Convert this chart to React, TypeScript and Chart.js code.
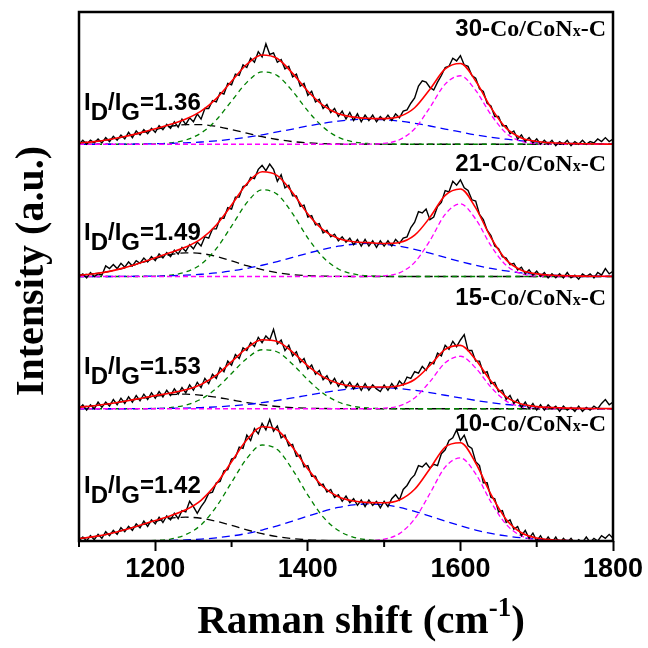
import React, { useEffect, useRef } from "react";
import { Chart, registerables } from "chart.js";

Chart.register(...registerables);

// Raman shift window and sampling grids (cm^-1)
const SHIFT_MIN = 1100;
const SHIFT_MAX = 1800;
const SPECTRUM_STEP = 5;
const FIT_STEP = 20;
const MAJOR_TICKS = [1200, 1400, 1600, 1800];
const MINOR_TICKS = [1100, 1300, 1500, 1700];

// Samples from bottom to top of the stack
const SAMPLE_NAMES = ["10", "15", "21", "30"];
const ID_IG_RATIOS = ["1.42", "1.53", "1.49", "1.36"];

// Measured spectra (normalised intensity, 5 cm^-1 steps from 1100)
const SPECTRUM_10 = [
  0.0, 0.03, 0.0, 0.04, 0.01, 0.05, 0.02, 0.07, 0.04, 0.08,
  0.05, 0.1, 0.07, 0.11, 0.08, 0.13, 0.1, 0.15, 0.11, 0.16,
  0.13, 0.18, 0.14, 0.19, 0.16, 0.21, 0.17, 0.23, 0.22, 0.3,
  0.26, 0.21, 0.26, 0.3, 0.36, 0.37, 0.44, 0.45, 0.53, 0.54,
  0.62, 0.63, 0.71, 0.7, 0.8, 0.76, 0.85, 0.81, 0.89, 0.84,
  0.92, 0.83, 0.87, 0.78, 0.8, 0.72, 0.73, 0.64, 0.65, 0.56,
  0.57, 0.49, 0.49, 0.42, 0.43, 0.37, 0.39, 0.33, 0.35, 0.3,
  0.34, 0.29, 0.32, 0.27, 0.31, 0.26, 0.31, 0.27, 0.3, 0.25,
  0.3, 0.26, 0.32, 0.35, 0.31, 0.39, 0.42, 0.47, 0.5, 0.57,
  0.56, 0.59, 0.55, 0.58, 0.57, 0.66, 0.69, 0.76, 0.78, 0.84,
  0.76, 0.8, 0.72, 0.7, 0.6, 0.57, 0.44, 0.44, 0.33, 0.32,
  0.22, 0.23, 0.14, 0.16, 0.09, 0.11, 0.04, 0.08, 0.02, 0.06,
  0.0, 0.04, -0.01, 0.03, -0.01, 0.03, -0.02, 0.02, -0.01, 0.02,
  -0.02, 0.01, -0.01, 0.03, -0.01, 0.02, 0.0, 0.04, 0.02, 0.05,
  0.02,
];
const SPECTRUM_15 = [
  0.0, 0.03, -0.01, 0.03, 0.0, 0.05, 0.01, 0.05, 0.02, 0.07,
  0.03, 0.08, 0.04, 0.09, 0.05, 0.1, 0.06, 0.11, 0.07, 0.12,
  0.08, 0.13, 0.09, 0.14, 0.1, 0.15, 0.11, 0.16, 0.12, 0.18,
  0.14, 0.2, 0.16, 0.23, 0.19, 0.26, 0.23, 0.31, 0.28, 0.36,
  0.33, 0.41, 0.38, 0.46, 0.44, 0.5, 0.47, 0.54, 0.5, 0.55,
  0.52, 0.6, 0.49, 0.52, 0.44, 0.48, 0.4, 0.43, 0.35, 0.38,
  0.3, 0.33, 0.26, 0.29, 0.22, 0.25, 0.19, 0.23, 0.17, 0.21,
  0.16, 0.2, 0.15, 0.19, 0.14, 0.19, 0.14, 0.18, 0.15, 0.13,
  0.18, 0.14, 0.19, 0.15, 0.21, 0.18, 0.24, 0.23, 0.28, 0.27,
  0.32, 0.29, 0.35, 0.34, 0.42, 0.4, 0.48, 0.45, 0.51, 0.47,
  0.52, 0.56, 0.44, 0.44, 0.36, 0.36, 0.27, 0.28, 0.19, 0.2,
  0.13, 0.14, 0.07, 0.1, 0.04, 0.07, 0.01, 0.05, 0.0, 0.04,
  -0.01, 0.03, -0.01, 0.03, 0.0, 0.02, -0.02, 0.02, -0.01, 0.01,
  -0.02, 0.02, -0.02, 0.01, -0.01, 0.02, 0.0, 0.04, 0.07, 0.03,
  0.05,
];
const SPECTRUM_21 = [
  0.0, 0.02, -0.01, 0.03, 0.0, 0.02, 0.01, 0.08, 0.06, 0.09,
  0.06, 0.1, 0.07, 0.11, 0.08, 0.12, 0.1, 0.14, 0.11, 0.15,
  0.12, 0.17, 0.14, 0.18, 0.15, 0.2, 0.17, 0.22, 0.19, 0.24,
  0.21, 0.26, 0.23, 0.3, 0.29, 0.36, 0.36, 0.44, 0.44, 0.52,
  0.51, 0.6, 0.6, 0.68, 0.69, 0.75, 0.74, 0.81, 0.84, 0.8,
  0.85, 0.81, 0.72, 0.77, 0.67, 0.69, 0.61, 0.61, 0.53, 0.54,
  0.45, 0.46, 0.39, 0.4, 0.33, 0.35, 0.3, 0.32, 0.27, 0.3,
  0.26, 0.29, 0.24, 0.28, 0.23, 0.28, 0.23, 0.27, 0.22, 0.27,
  0.23, 0.27, 0.23, 0.28, 0.25, 0.29, 0.3, 0.37, 0.41, 0.49,
  0.48, 0.51, 0.43, 0.45, 0.53, 0.56, 0.65, 0.64, 0.72, 0.69,
  0.73, 0.67, 0.65, 0.58, 0.57, 0.47, 0.43, 0.35, 0.31, 0.23,
  0.21, 0.15, 0.14, 0.09, 0.1, 0.05, 0.07, 0.02, 0.05, 0.01,
  0.04, 0.0, 0.03, -0.01, 0.02, -0.01, 0.02, -0.01, 0.03, -0.01,
  0.01, -0.02, 0.02, 0.0, 0.02, -0.01, 0.03, 0.01, 0.06, 0.02,
  0.04,
];
const SPECTRUM_30 = [
  0.0, 0.03, 0.0, 0.03, 0.01, 0.04, 0.01, 0.05, 0.02, 0.06,
  0.03, 0.07, 0.04, 0.09, 0.05, 0.1, 0.07, 0.11, 0.08, 0.12,
  0.09, 0.14, 0.11, 0.15, 0.12, 0.17, 0.13, 0.19, 0.15, 0.2,
  0.17, 0.23, 0.19, 0.27, 0.27, 0.33, 0.32, 0.39, 0.38, 0.46,
  0.45, 0.53, 0.52, 0.6, 0.58, 0.65, 0.62, 0.7, 0.66, 0.76,
  0.68, 0.69, 0.62, 0.64, 0.57, 0.59, 0.51, 0.53, 0.44, 0.46,
  0.37, 0.4, 0.32, 0.34, 0.27, 0.3, 0.24, 0.27, 0.21, 0.25,
  0.19, 0.24, 0.18, 0.23, 0.17, 0.22, 0.18, 0.22, 0.17, 0.21,
  0.18, 0.22, 0.18, 0.23, 0.2, 0.25, 0.26, 0.31, 0.35, 0.44,
  0.48, 0.47, 0.43, 0.41, 0.47, 0.52, 0.58, 0.59, 0.65, 0.63,
  0.67, 0.6, 0.59, 0.52, 0.5, 0.42, 0.4, 0.31, 0.29, 0.21,
  0.21, 0.14, 0.14, 0.08, 0.1, 0.04, 0.07, 0.02, 0.05, 0.01,
  0.04, 0.0, 0.03, 0.0, 0.03, -0.01, 0.02, 0.0, 0.03, -0.01,
  0.02, 0.0, 0.03, 0.0, 0.02, 0.01, 0.04, 0.02, 0.05, 0.02,
  0.04,
];

// Fitted components (20 cm^-1 steps from 1100): ~1250 band, D band, broad band, G band
const BAND1250_10 = [0.018, 0.033, 0.055, 0.084, 0.118, 0.149, 0.172, 0.18, 0.172, 0.149, 0.118, 0.084, 0.055, 0.033, 0.018, 0.009, 0.004, 0.002, 0.001, 0, 0, 0, 0, 0, 0, 0, 0, 0, 0, 0, 0, 0, 0, 0, 0, 0];
const BAND_D_10 = [0, 0, 0, 0, 0, 0.004, 0.015, 0.048, 0.122, 0.259, 0.443, 0.624, 0.726, 0.691, 0.539, 0.347, 0.182, 0.079, 0.028, 0.008, 0.002, 0, 0, 0, 0, 0, 0, 0, 0, 0, 0, 0, 0, 0, 0, 0];
const BAND_BROAD_10 = [0, 0, 0, 0.001, 0.001, 0.002, 0.004, 0.008, 0.014, 0.024, 0.038, 0.057, 0.083, 0.115, 0.151, 0.188, 0.224, 0.254, 0.273, 0.28, 0.273, 0.254, 0.224, 0.188, 0.151, 0.115, 0.083, 0.057, 0.038, 0.024, 0.014, 0.008, 0.004, 0.002, 0.001, 0.001];
const BAND_G_10 = [0, 0, 0, 0, 0, 0, 0, 0, 0, 0, 0, 0, 0, 0, 0, 0, 0, 0, 0, 0.002, 0.014, 0.056, 0.167, 0.359, 0.559, 0.628, 0.507, 0.295, 0.125, 0.038, 0.008, 0.001, 0, 0, 0, 0];

const BAND1250_15 = [0.013, 0.023, 0.038, 0.057, 0.077, 0.095, 0.107, 0.11, 0.102, 0.087, 0.067, 0.047, 0.03, 0.017, 0.009, 0.004, 0.002, 0.001, 0, 0, 0, 0, 0, 0, 0, 0, 0, 0, 0, 0, 0, 0, 0, 0, 0, 0];
const BAND_D_15 = [0, 0, 0, 0, 0, 0.002, 0.009, 0.028, 0.073, 0.153, 0.267, 0.38, 0.446, 0.429, 0.337, 0.219, 0.117, 0.051, 0.018, 0.005, 0.001, 0, 0, 0, 0, 0, 0, 0, 0, 0, 0, 0, 0, 0, 0, 0];
const BAND_BROAD_15 = [0, 0, 0, 0, 0.001, 0.002, 0.003, 0.005, 0.009, 0.014, 0.022, 0.032, 0.046, 0.063, 0.082, 0.102, 0.122, 0.139, 0.152, 0.159, 0.159, 0.152, 0.139, 0.122, 0.102, 0.082, 0.063, 0.046, 0.032, 0.022, 0.014, 0.009, 0.005, 0.003, 0.002, 0.001];
const BAND_G_15 = [0, 0, 0, 0, 0, 0, 0, 0, 0, 0, 0, 0, 0, 0, 0, 0, 0, 0, 0, 0, 0.004, 0.022, 0.082, 0.205, 0.347, 0.397, 0.308, 0.163, 0.058, 0.014, 0.002, 0, 0, 0, 0, 0];

const BAND1250_21 = [0.01, 0.021, 0.039, 0.066, 0.1, 0.136, 0.165, 0.179, 0.174, 0.152, 0.118, 0.082, 0.052, 0.029, 0.014, 0.006, 0.003, 0.001, 0, 0, 0, 0, 0, 0, 0, 0, 0, 0, 0, 0, 0, 0, 0, 0, 0, 0];
const BAND_D_21 = [0, 0, 0, 0, 0, 0.002, 0.01, 0.034, 0.093, 0.211, 0.381, 0.558, 0.655, 0.621, 0.475, 0.291, 0.145, 0.057, 0.019, 0.005, 0.001, 0, 0, 0, 0, 0, 0, 0, 0, 0, 0, 0, 0, 0, 0, 0];
const BAND_BROAD_21 = [0, 0, 0, 0.001, 0.002, 0.003, 0.006, 0.01, 0.017, 0.027, 0.042, 0.061, 0.085, 0.113, 0.144, 0.176, 0.205, 0.229, 0.244, 0.25, 0.244, 0.229, 0.205, 0.176, 0.144, 0.113, 0.085, 0.061, 0.042, 0.027, 0.017, 0.01, 0.006, 0.003, 0.002, 0.001];
const BAND_G_21 = [0, 0, 0, 0, 0, 0, 0, 0, 0, 0, 0, 0, 0, 0, 0, 0, 0, 0, 0, 0.001, 0.005, 0.028, 0.107, 0.271, 0.47, 0.549, 0.434, 0.233, 0.084, 0.021, 0.003, 0, 0, 0, 0, 0];

const BAND1250_30 = [0.011, 0.02, 0.036, 0.057, 0.084, 0.111, 0.135, 0.148, 0.148, 0.135, 0.111, 0.084, 0.057, 0.036, 0.02, 0.011, 0.005, 0.002, 0.001, 0, 0, 0, 0, 0, 0, 0, 0, 0, 0, 0, 0, 0, 0, 0, 0, 0];
const BAND_D_30 = [0, 0, 0, 0, 0, 0.002, 0.01, 0.032, 0.085, 0.184, 0.327, 0.468, 0.547, 0.519, 0.401, 0.252, 0.13, 0.053, 0.018, 0.005, 0.001, 0, 0, 0, 0, 0, 0, 0, 0, 0, 0, 0, 0, 0, 0, 0];
const BAND_BROAD_30 = [0, 0, 0, 0.001, 0.002, 0.004, 0.006, 0.011, 0.017, 0.026, 0.038, 0.053, 0.071, 0.093, 0.115, 0.138, 0.159, 0.175, 0.186, 0.19, 0.186, 0.175, 0.159, 0.138, 0.115, 0.093, 0.071, 0.053, 0.038, 0.026, 0.017, 0.011, 0.006, 0.004, 0.002, 0.001];
const BAND_G_30 = [0, 0, 0, 0, 0, 0, 0, 0, 0, 0, 0, 0, 0, 0, 0, 0, 0, 0, 0, 0.001, 0.007, 0.034, 0.117, 0.278, 0.455, 0.518, 0.407, 0.224, 0.084, 0.022, 0.004, 0, 0, 0, 0, 0];

const PANELS = [
  { spectrum: SPECTRUM_10, bands: [BAND1250_10, BAND_D_10, BAND_BROAD_10, BAND_G_10] },
  { spectrum: SPECTRUM_15, bands: [BAND1250_15, BAND_D_15, BAND_BROAD_15, BAND_G_15] },
  { spectrum: SPECTRUM_21, bands: [BAND1250_21, BAND_D_21, BAND_BROAD_21, BAND_G_21] },
  { spectrum: SPECTRUM_30, bands: [BAND1250_30, BAND_D_30, BAND_BROAD_30, BAND_G_30] },
];

// Styling for the four fitted bands
const BAND_STYLES = [
  { color: "#000000", dash: [8, 5], order: 5 },
  { color: "#008000", dash: [5, 4], order: 4 },
  { color: "#0000ff", dash: [8, 5], order: 3 },
  { color: "#ff00ff", dash: [5, 3], order: 2 },
];

// Vertical placement of the annotations inside each stacked panel (panel units)
const NAME_LEVEL = [0.832, 0.785, 0.798, 0.818];
const RATIO_LEVEL = [0.363, 0.263, 0.276, 0.26];

const SANS_B = (s: number) => `bold ${s}px "Liberation Sans", Arial, sans-serif`;
const SERIF_B = (s: number) => `bold ${s}px "Liberation Serif", "Times New Roman", serif`;

type Run = { text: string; font: string; dy?: number };

function drawRuns(ctx: CanvasRenderingContext2D, runs: Run[], x: number, y: number, align: "left" | "right" | "center") {
  const widths = runs.map((r) => {
    ctx.font = r.font;
    return ctx.measureText(r.text).width;
  });
  const total = widths.reduce((a, b) => a + b, 0);
  let cx = align === "right" ? x - total : align === "center" ? x - total / 2 : x;
  ctx.textAlign = "left";
  ctx.textBaseline = "alphabetic";
  runs.forEach((r, i) => {
    ctx.font = r.font;
    ctx.fillText(r.text, cx, y + (r.dy || 0));
    cx += widths[i];
  });
}

const decorPlugin = {
  id: "ramanDecor",
  afterDraw(chart: any) {
    const ctx: CanvasRenderingContext2D = chart.ctx;
    const { left, right, top, bottom } = chart.chartArea;
    const xs = chart.scales.x;
    const ys = chart.scales.y;
    ctx.save();
    ctx.strokeStyle = "#000";
    ctx.fillStyle = "#000";

    // frame
    ctx.lineWidth = 2.5;
    ctx.strokeRect(left, top, right - left, bottom - top);

    // minor ticks
    ctx.lineWidth = 2;
    MINOR_TICKS.forEach((v) => {
      const px = xs.getPixelForValue(v);
      ctx.beginPath();
      ctx.moveTo(px, bottom);
      ctx.lineTo(px, bottom + 6);
      ctx.stroke();
    });

    // panel annotations
    SAMPLE_NAMES.forEach((name, p) => {
      const yName = ys.getPixelForValue(p + NAME_LEVEL[p]);
      drawRuns(
        ctx,
        [
          { text: `${name}-`, font: SANS_B(24) },
          { text: "Co/CoN", font: SERIF_B(24) },
          { text: "x", font: SERIF_B(16) },
          { text: "-C", font: SERIF_B(24) },
        ],
        606,
        yName,
        "right"
      );
      const yRatio = ys.getPixelForValue(p + RATIO_LEVEL[p]);
      drawRuns(
        ctx,
        [
          { text: "I", font: SANS_B(24) },
          { text: "D", font: SANS_B(24), dy: 10 },
          { text: "/", font: SANS_B(24) },
          { text: "I", font: SANS_B(24) },
          { text: "G", font: SANS_B(24), dy: 10 },
          { text: `=${ID_IG_RATIOS[p]}`, font: SANS_B(24) },
        ],
        84,
        yRatio,
        "left"
      );
    });

    // axis titles
    drawRuns(
      ctx,
      [
        { text: "Raman shift (cm", font: SERIF_B(41) },
        { text: "-1", font: SERIF_B(27), dy: -17 },
        { text: ")", font: SERIF_B(41) },
      ],
      361,
      633,
      "center"
    );
    ctx.translate(43, 271);
    ctx.rotate(-Math.PI / 2);
    ctx.font = SERIF_B(40);
    ctx.textAlign = "center";
    ctx.textBaseline = "alphabetic";
    ctx.fillText("Intensity (a.u.)", 0, 0);
    ctx.restore();
  },
};

function buildDatasets() {
  const sets: any[] = [];
  PANELS.forEach((panel, p) => {
    const fitX = panel.bands[0].map((_, i) => SHIFT_MIN + i * FIT_STEP);
    // cumulative fit = sum of the fitted bands
    const fit = fitX.map((x, i) => ({
      x,
      y: p + panel.bands.reduce((s, b) => s + b[i], 0),
    }));
    sets.push({
      data: fit,
      borderColor: "#ff0000",
      borderWidth: 1.6,
      cubicInterpolationMode: "monotone",
      pointRadius: 0,
      order: 0,
    });
    sets.push({
      data: panel.spectrum.map((v, i) => ({ x: SHIFT_MIN + i * SPECTRUM_STEP, y: p + v })),
      borderColor: "#000000",
      borderWidth: 1.4,
      tension: 0,
      pointRadius: 0,
      order: 1,
    });
    panel.bands.forEach((band, k) => {
      const st = BAND_STYLES[k];
      sets.push({
        data: band.map((v, i) => ({ x: fitX[i], y: p + v })),
        borderColor: st.color,
        borderWidth: 1.3,
        borderDash: st.dash,
        cubicInterpolationMode: "monotone",
        pointRadius: 0,
        order: st.order,
      });
    });
  });
  return sets;
}

export default function App() {
  const canvasRef = useRef<HTMLCanvasElement | null>(null);

  useEffect(() => {
    if (!canvasRef.current) return;
    const chart = new Chart(canvasRef.current, {
      type: "line",
      data: { datasets: buildDatasets() },
      options: {
        animation: false,
        responsive: false,
        devicePixelRatio: 1,
        events: [],
        layout: { padding: { left: 79, right: 35, top: 12, bottom: 0 } },
        plugins: { legend: { display: false }, tooltip: { enabled: false } },
        scales: {
          x: {
            type: "linear",
            min: SHIFT_MIN,
            max: SHIFT_MAX,
            afterBuildTicks: (axis: any) => {
              axis.ticks = MAJOR_TICKS.map((v) => ({ value: v }));
            },
            afterFit: (axis: any) => {
              axis.height = 107;
            },
            border: { display: false },
            grid: {
              drawOnChartArea: false,
              drawTicks: true,
              tickLength: 10,
              tickWidth: 2,
              tickColor: "#000",
            },
            ticks: {
              color: "#000",
              padding: 2,
              maxRotation: 0,
              font: { family: '"Liberation Sans", Arial, sans-serif', size: 27, weight: "bold" },
              callback: (v: any) => String(v),
            },
          },
          y: { type: "linear", min: 0, max: 4, display: false },
        },
      },
      plugins: [decorPlugin],
    });
    return () => chart.destroy();
  }, []);

  return (
    <div style={{ position: "fixed", left: 0, top: 0, width: 648, height: 648, background: "#fff" }}>
      <canvas ref={canvasRef} width={648} height={648} />
    </div>
  );
}
